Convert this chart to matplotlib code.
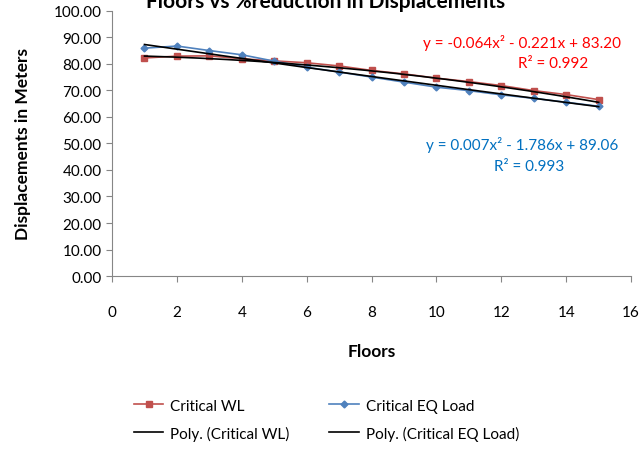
import numpy as np
import matplotlib
matplotlib.use("Agg")
import matplotlib.pyplot as plt

plt.rcParams['font.family'] = ['Lato', 'DejaVu Sans']

floors = [1, 2, 3, 4, 5, 6, 7, 8, 9, 10, 11, 12, 13, 14, 15]
critical_wl = [82.2, 82.9, 83.0, 81.9, 81.1, 80.4, 79.2, 77.5, 76.2, 74.6, 73.3, 71.8, 69.9, 68.4, 66.5]
critical_eq = [85.9, 86.7, 85.0, 83.4, 81.0, 78.7, 76.9, 75.0, 73.1, 71.2, 69.9, 68.3, 67.0, 65.5, 64.0]

# quadratic trendline coefficients (x^2, x, const)
poly_wl = [-0.064, -0.221, 83.20]
poly_eq = [0.007, -1.786, 89.06]
r2_wl = 0.992
r2_eq = 0.993

fig = plt.figure(figsize=(6.44, 4.52), dpi=100)
ax = fig.add_axes([0.174, 0.387, 0.806, 0.587])

l_wl, = ax.plot(floors, critical_wl, color='#C0504D', lw=1.2, marker='s', ms=5, label='Critical WL')
l_eq, = ax.plot(floors, critical_eq, color='#4F81BD', lw=1.2, marker='D', ms=3.5, label='Critical EQ Load')

xs = np.linspace(floors[0], floors[-1], 200)
p_wl, = ax.plot(xs, np.polyval(poly_wl, xs), color='black', lw=1.2, label='Poly. (Critical WL)')
p_eq, = ax.plot(xs, np.polyval(poly_eq, xs), color='black', lw=1.2, label='Poly. (Critical EQ Load)')

ax.set_xlim(0, 16)
ax.set_ylim(0, 100)
ax.set_xticks(range(0, 17, 2))
ax.set_yticks(range(0, 101, 10))
ax.set_yticklabels([f'{v:.2f}' for v in range(0, 101, 10)])
ax.tick_params(labelsize=11, color='#868686', length=4)
ax.tick_params(axis='x', pad=17)
for s in ['top', 'right']:
    ax.spines[s].set_visible(False)
for s in ['left', 'bottom']:
    ax.spines[s].set_color('#868686')

def fmt(c):
    a, b, k = c
    sb = '-' if b < 0 else '+'
    sk = '-' if k < 0 else '+'
    return f'y = {a:.3f}x\u00b2 {sb} {abs(b):.3f}x {sk} {abs(k):.2f}'

ax.text(15.7, 88.2, fmt(poly_wl), color='#FF0000', fontsize=11, ha='right', va='center')
ax.text(13.6, 80.4, f'R\u00b2 = {r2_wl}', color='#FF0000', fontsize=11, ha='center', va='center')
ax.text(15.6, 49.6, fmt(poly_eq), color='#0070C0', fontsize=11, ha='right', va='center')
ax.text(12.85, 41.3, f'R\u00b2 = {r2_eq}', color='#0070C0', fontsize=11, ha='center', va='center')

fig.text(0.506, 0.995, 'Floors vs %reduction in Displacements', fontsize=15, fontweight='bold',
         ha='center', va='center')
ax.set_ylabel('Displacements in Meters', fontsize=12.5, fontweight='bold', labelpad=16)
ax.set_xlabel('Floors', fontsize=12.5, fontweight='bold', labelpad=17)

fig.legend([l_wl, p_wl, l_eq, p_eq],
           ['Critical WL', 'Poly. (Critical WL)', 'Critical EQ Load', 'Poly. (Critical EQ Load)'],
           loc='center', bbox_to_anchor=(0.507, 0.069), ncol=2, frameon=False, fontsize=11,
           handlelength=1.95, handletextpad=0.45, columnspacing=2.6, labelspacing=0.85,
           borderpad=0)

fig.savefig('out.png', dpi=100)
